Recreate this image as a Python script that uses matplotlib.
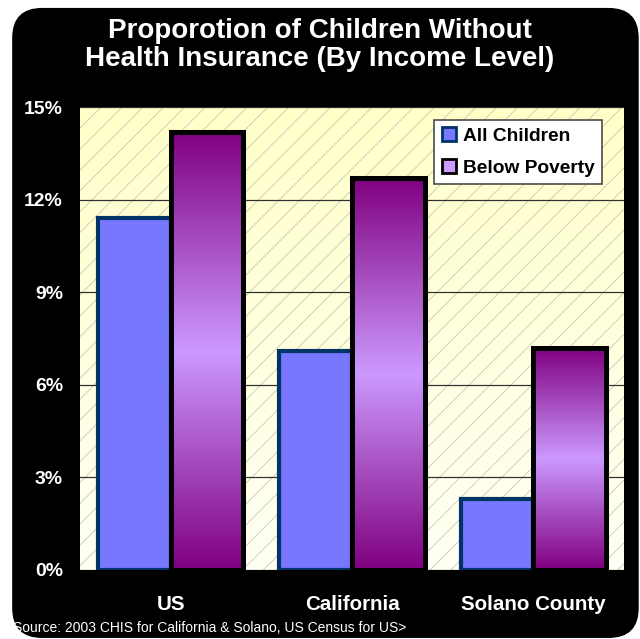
import numpy as np
import matplotlib
matplotlib.use('Agg')
import matplotlib.pyplot as plt
from matplotlib.patches import FancyBboxPatch, Rectangle
from matplotlib.lines import Line2D
from matplotlib.colors import LinearSegmentedColormap

# data (percent of children without insurance)
categories    = ['US', 'California', 'Solano County']
all_children  = [11.4, 7.1, 2.3]
below_poverty = [14.2, 12.7, 7.2]
y_ticks       = [0, 3, 6, 9, 12, 15]
y_labels      = ['0%', '3%', '6%', '9%', '12%', '15%']
series_names  = ['All Children', 'Below Poverty']

plt.rcParams['font.family'] = ['Liberation Sans', 'DejaVu Sans']
plt.rcParams['hatch.linewidth'] = 0.4

DPI = 125
fig = plt.figure(figsize=(640 / DPI, 639 / DPI), dpi=DPI)
fig.patch.set_facecolor('white')

# black rounded card behind everything
card = FancyBboxPatch((0.019, 0.0016), 0.979, 0.986,
                      boxstyle='round,pad=0,rounding_size=0.047',
                      transform=fig.transFigure, facecolor='black',
                      edgecolor='none', zorder=-1)
fig.add_artist(card)

ax = fig.add_axes([80 / 640, 69 / 639, 544 / 640, 463 / 639])
ax.set_facecolor('none')

# plot area: soft yellow gradient + light diagonal hatch
bg = LinearSegmentedColormap.from_list('bg', ['#FFFFF4', '#FFFFC8'])
ax.imshow(np.linspace(0, 1, 256).reshape(-1, 1), cmap=bg, origin='lower',
          extent=[0, 1, 0, 1], transform=ax.transAxes, aspect='auto',
          zorder=0.1)
ax.add_patch(Rectangle((0, 0), 1, 1, transform=ax.transAxes, facecolor='none',
                       edgecolor='#BDBDB5', linewidth=0, hatch='//', zorder=0.2))

x = np.arange(len(categories))
w = 0.4

ax.bar(x - w / 2, all_children, w, color='#7777FF', edgecolor='#003366',
       linewidth=2.4, zorder=3)

purple = LinearSegmentedColormap.from_list(
    'purp', ['#800080', '#CC99FF', '#800080'])
grad = np.linspace(0, 1, 256).reshape(-1, 1)
edges = ax.bar(x + w / 2, below_poverty, w, facecolor='none',
               edgecolor='black', linewidth=2.9, zorder=5)
for p in edges:
    x0, h = p.get_x(), p.get_height()
    ax.imshow(grad, cmap=purple, origin='lower', aspect='auto',
              extent=[x0, x0 + p.get_width(), 0, h], zorder=4,
              interpolation='bilinear')

ax.set_xlim(-0.5, len(categories) - 0.5)
ax.set_ylim(0, 15)
ax.set_yticks(y_ticks)
ax.set_yticklabels(y_labels)
ax.set_xticks(x)
ax.set_xticklabels(categories)
ax.tick_params(axis='y', length=0, pad=9.8, labelsize=11.2, labelcolor='white')
ax.tick_params(axis='x', length=0, pad=14.5, labelsize=11.8, labelcolor='white')
for lbl in ax.get_xticklabels() + ax.get_yticklabels():
    lbl.set_fontweight('bold')
ax.set_axisbelow(True)
ax.yaxis.grid(True, color='#303030', linewidth=0.7)
for s in ax.spines.values():
    s.set_visible(False)

handles = [
    Line2D([], [], linestyle='none', marker='s', markersize=8,
           markerfacecolor='#7777FF', markeredgecolor='#003366',
           markeredgewidth=1.6),
    Line2D([], [], linestyle='none', marker='s', markersize=8,
           markerfacecolor='#CC99FF', markeredgecolor='black',
           markeredgewidth=1.6),
]
leg = ax.legend(handles, series_names, loc='upper right',
                bbox_to_anchor=(602 / 640, 519 / 639),
                bbox_transform=fig.transFigure, borderaxespad=0,
                prop={'weight': 'bold', 'size': 11}, fancybox=False,
                framealpha=1, edgecolor='#404040', handlelength=0.8,
                handletextpad=0.3, labelspacing=0.75, borderpad=0.4)
leg.get_frame().set_linewidth(0.9)
leg.set_zorder(6)

fig.text(0.5, (639 - 37.5) / 639, 'Proporotion of Children Without',
         color='white', fontsize=16, fontweight='bold', ha='center',
         va='baseline')
fig.text(0.5, (639 - 66.5) / 639, 'Health Insurance (By Income Level)',
         color='white', fontsize=16, fontweight='bold', ha='center',
         va='baseline')
fig.text(13 / 640, (639 - 632) / 639,
         'Source: 2003 CHIS for California & Solano, US Census for US>',
         color='white', fontsize=8, ha='left', va='baseline')

fig.savefig('out.png', dpi=DPI, facecolor=fig.get_facecolor())
